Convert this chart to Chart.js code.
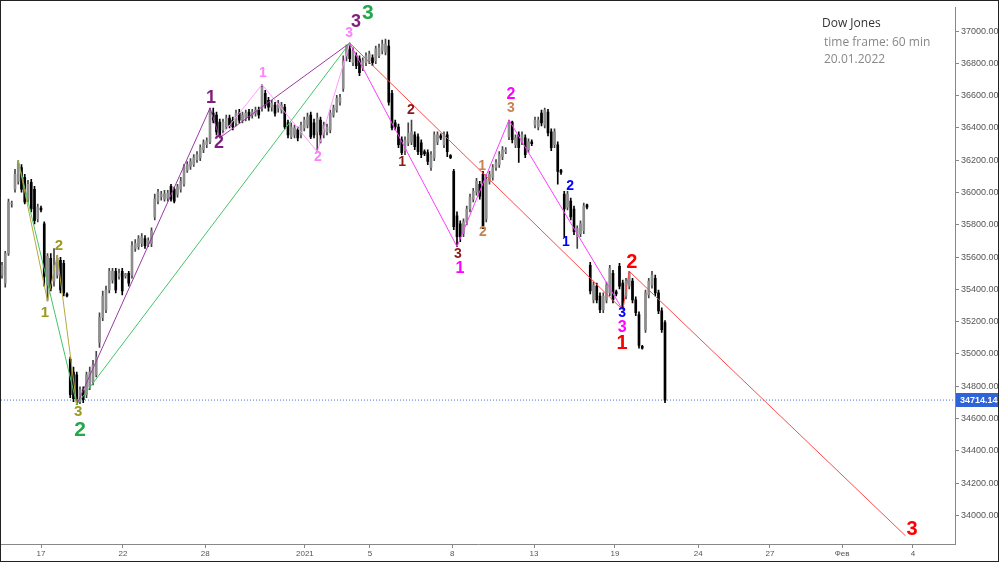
<!DOCTYPE html>
<html><head><meta charset="utf-8">
<script src="https://cdn.jsdelivr.net/npm/chart.js@4/dist/chart.umd.min.js"></script>
<style>
html,body{margin:0;padding:0;background:#fff;}
#wrap{position:relative;width:999px;height:562px;overflow:hidden;}
canvas{display:block;}
.info{position:absolute;left:822px;font-family:"Open Sans",sans-serif;font-size:12px;line-height:17px;white-space:nowrap;}
</style></head><body>
<div id="wrap"><canvas id="c" width="999" height="562"></canvas>
<div class="info" style="top:14px;color:#333">Dow Jones</div>
<div class="info" style="top:33px;left:824px;color:#888">time frame: 60 min</div>
<div class="info" style="top:50px;left:824px;color:#888">20.01.2022</div>
</div>
<script>
// ---- hourly candles (bar index = position in arrays) ----
const opens=[35488,35439,35622,35929,36020,36069,36155,36094,35959,36063,
36020,35837,35904,35806,35427,35592,35451,35488,35580,35561,
35371,34967,34888,34870,34704,34778,34747,34796,34827,34870,
35071,35225,35274,35396,35457,35512,35482,35512,35482,35500,
35488,35653,35665,35684,35714,35684,35684,35849,35947,35972,
35959,35965,36039,36020,35990,36020,36051,36137,36161,36173,
36204,36216,36265,36296,36314,36492,36480,36437,36388,36406,
36461,36449,36431,36492,36449,36461,36498,36480,36492,36510,
36523,36614,36571,36529,36541,36523,36510,36529,36431,36345,
36357,36388,36357,36400,36418,36480,36431,36376,36449,36357,
36376,36388,36480,36510,36559,36645,36847,36890,36804,36847,
36829,36774,36804,36816,36835,36816,36847,36877,36871,36908,
36614,36431,36406,36327,36259,36308,36314,36357,36345,36308,
36253,36247,36155,36216,36314,36351,36296,36357,36229,36131,
35855,35806,35745,35818,35898,35959,36002,36051,36112,35837,
36069,36094,36155,36173,36222,36253,36345,36437,36296,36357,
36314,36339,36265,36314,36418,36406,36492,36418,36498,36376,
36296,36296,36137,35990,35910,35947,35898,35727,35745,35763,
35923,35549,35335,35420,35359,35274,35335,35378,35500,35384,
35543,35439,35359,35420,35451,35335,35243,35047,35151,35365,
35427,35469,35378,35267,35194];
const highs=[35567,35635,35959,35947,36143,36198,36173,36112,36076,36082,
36039,35929,35916,35818,35622,35622,35653,35610,35598,35580,
35378,34980,34918,34888,34796,34796,34888,34918,34961,35016,
35255,35390,35420,35531,35531,35531,35525,35531,35500,35512,
35696,35708,35733,35745,35733,35720,35782,35990,36020,36008,
36014,36014,36051,36033,36051,36094,36173,36192,36210,36235,
36253,36296,36327,36339,36523,36523,36498,36455,36455,36480,
36480,36467,36510,36516,36498,36510,36516,36516,36529,36529,
36669,36633,36590,36571,36559,36571,36559,36547,36449,36431,
36418,36406,36437,36467,36492,36498,36455,36492,36467,36437,
36424,36510,36541,36602,36608,36847,36914,36926,36896,36865,
36847,36835,36865,36877,36853,36908,36920,36945,36951,36945,
36633,36449,36424,36345,36345,36431,36449,36376,36363,36327,
36265,36265,36253,36376,36376,36363,36376,36376,36235,36143,
35880,35825,35837,35916,35990,36026,36088,36069,36131,36112,
36131,36173,36204,36253,36284,36278,36449,36443,36357,36376,
36376,36357,36333,36327,36467,36467,36510,36523,36516,36394,
36394,36314,36143,36008,36008,35965,35916,35794,35825,35935,
35929,35567,35445,35439,35378,35378,35445,35549,35518,35396,
35561,35457,35469,35512,35469,35353,35261,35053,35396,35469,
35512,35488,35396,35286,35206];
const lows=[35469,35414,35610,35910,36002,36051,36002,35929,35941,35880,
35806,35818,35880,35420,35329,35390,35420,35469,35378,35359,
35353,34729,34704,34686,34692,34698,34729,34778,34808,34857,
35041,35206,35255,35378,35439,35378,35463,35365,35469,35420,
35469,35635,35647,35665,35653,35665,35665,35831,35929,35953,
35947,35947,35947,35935,35971,36002,36039,36124,36143,36161,
36186,36198,36247,36278,36302,36431,36357,36339,36369,36394,
36400,36388,36412,36431,36431,36443,36449,36461,36473,36461,
36504,36523,36504,36504,36473,36498,36492,36394,36339,36333,
36339,36320,36339,36382,36400,36333,36339,36253,36308,36339,
36357,36369,36467,36498,36541,36627,36816,36810,36786,36767,
36724,36755,36786,36798,36786,36798,36835,36859,36853,36541,
36388,36388,36278,36235,36235,36290,36296,36265,36235,36216,
36229,36173,36137,36198,36296,36327,36278,36222,36210,35770,
35665,35696,35727,35800,35880,35941,35984,35959,35776,35818,
36051,36076,36137,36155,36204,36241,36327,36308,36278,36186,
36296,36216,36247,36290,36400,36388,36412,36400,36351,36259,
36278,36051,36112,35727,35892,35831,35739,35653,35727,35745,
35898,35371,35316,35316,35255,35255,35316,35359,35316,35359,
35402,35273,35341,35402,35316,35237,35035,35029,35133,35347,
35408,35359,35249,35133,34698];
const closes=[35549,35622,35941,35935,36112,36173,36020,35941,36051,35898,
35825,35910,35892,35482,35604,35408,35549,35592,35396,35378,
35359,34747,34723,34723,34778,34716,34870,34888,34931,34980,
35225,35359,35396,35512,35512,35396,35500,35390,35494,35439,
35671,35684,35714,35727,35671,35702,35763,35959,36002,35990,
35990,35996,35959,35947,36033,36069,36161,36173,36192,36216,
36235,36278,36308,36320,36510,36449,36376,36357,36437,36461,
36418,36406,36492,36449,36480,36492,36467,36498,36510,36480,
36651,36541,36529,36553,36492,36553,36541,36406,36357,36406,
36400,36339,36418,36449,36467,36345,36357,36461,36357,36418,
36406,36492,36523,36584,36590,36816,36908,36829,36877,36786,
36743,36816,36847,36859,36804,36890,36896,36920,36920,36559,
36400,36406,36296,36247,36327,36369,36376,36284,36253,36235,
36241,36192,36235,36357,36357,36339,36357,36253,36216,35788,
35727,35727,35818,35898,35971,36008,36069,35978,35794,36082,
36112,36155,36186,36235,36265,36265,36431,36327,36339,36278,
36357,36235,36314,36302,36449,36449,36431,36510,36369,36278,
36376,36131,36124,35898,35990,35849,35757,35776,35806,35916,
35910,35390,35427,35335,35274,35359,35427,35531,35335,35371,
35420,35286,35451,35500,35335,35255,35053,35035,35378,35451,
35488,35378,35267,35151,34714.14];
const lastPrice=34714.14;

// ---- axes ----
const yTicks=[34000,34200,34400,34600,34800,35000,35200,35400,35600,35800,36000,36200,36400,36600,36800,37000];
const xTickPos=[12,37.2,62.5,93.2,113.2,138.5,163.7,188.6,214.2,236.3,258.5,280.3];
const xTickLabels=['17','22','28','2021','5','8','13','19','24','27','Фев','4'];
const XMIN=-0.3077, XMAX=293.23, YMIN=33822.4, YMAX=37146.9;

// ---- wave lines (bar index, price) ----
const oliveX=[5,14,17,23], oliveY=[36198,35329,35610,34686];
const greenX=[5,23,107], greenY=[36198,34686,36926];
const purpleX=[23,64,67,107], purpleY=[34686,36523,36339,36926];
const pinkX=[67,80,97,107], pinkY=[36339,36669,36253,36926];
const magentaX=[107,140,156,191], magentaY=[36926,35665,36449,35273];
const redX=[107,191,193,278], redY=[36926,35273,35512,33873];

// ---- wave labels ----
const oliveLblX=[13.2,17.5,23.4], oliveLblY=[35237,35654,34625], oliveLbl=['1','2','3'];
const greenLblX=[24,112.6], greenLblY=[34509,37092], greenLbl=['2','3'];
const purpleLblX=[64.3,66.8,108.9], purpleLblY=[36565,36290,37037], purpleLbl=['1','2','3'];
const pinkLblX=[80.3,97.2,106.8], pinkLblY=[36718,36198,36969], pinkLbl=['1','2','3'];
const darkredLblX=[123.1,125.8,140.3], darkredLblY=[36168,36492,35598], darkredLbl=['1','2','3'];
const magentaLblX=[140.9,156.6,190.8], magentaLblY=[35513,36590,35146], magentaLbl=['1','2','3'];
const tanLblX=[147.7,148,156.6], tanLblY=[36143,35739,36504], tanLbl=['1','2','3'];
const blueLblX=[173.5,174.8,190.8], blueLblY=[35672,36021,35237], blueLbl=['1','2','3'];
const redLblX=[190.8,193.8,280], redLblY=[35048,35550,33891], redLbl=['1','2','3'];

const labelGroups=[
 {xs:oliveLblX,ys:oliveLblY,t:oliveLbl,color:'#9c9a1c',size:15},
 {xs:greenLblX,ys:greenLblY,t:greenLbl,color:'#22a84a',size:21},
 {xs:purpleLblX,ys:purpleLblY,t:purpleLbl,color:'#7e1f7e',size:18},
 {xs:pinkLblX,ys:pinkLblY,t:pinkLbl,color:'#ff80ff',size:14},
 {xs:darkredLblX,ys:darkredLblY,t:darkredLbl,color:'#8b1a1a',size:14},
 {xs:magentaLblX,ys:magentaLblY,t:magentaLbl,color:'#ff00ff',size:16},
 {xs:tanLblX,ys:tanLblY,t:tanLbl,color:'#c58450',size:14},
 {xs:blueLblX,ys:blueLblY,t:blueLbl,color:'#0000ff',size:14},
 {xs:redLblX,ys:redLblY,t:redLbl,color:'#ff0000',size:20}
];

const idx=opens.map((_,i)=>i);
const isBull=i=>closes[i]>=opens[i];
const pts=(xs,ys)=>xs.map((x,i)=>({x:x,y:ys[i]}));
const lineDs=(xs,ys,color)=>({type:'line',data:pts(xs,ys),borderColor:color,borderWidth:1,pointRadius:0,tension:0,fill:false,order:0});

const annot={
 id:'annot',
 afterDatasetsDraw(chart){
  const {ctx,scales:{x,y}}=chart;
  ctx.save();
  ctx.textAlign='center';ctx.textBaseline='middle';
  labelGroups.forEach(g=>{
    ctx.font='bold '+g.size+'px "Liberation Sans", Arial, sans-serif';
    ctx.fillStyle=g.color;
    g.xs.forEach((xv,k)=>ctx.fillText(g.t[k],x.getPixelForValue(xv),y.getPixelForValue(g.ys[k])-3));
  });
  ctx.restore();
 },
 afterDraw(chart){
  const {ctx,chartArea,scales:{y}}=chart;
  const yy=Math.round(y.getPixelForValue(lastPrice));
  ctx.save();
  ctx.fillStyle='#2f63d9';
  ctx.fillRect(chartArea.right+1,yy-7,44,14);
  ctx.fillStyle='#fff';ctx.font='bold 9px "Liberation Sans", Arial, sans-serif';
  ctx.textAlign='left';ctx.textBaseline='middle';
  ctx.fillText(lastPrice.toFixed(2),chartArea.right+5,yy+0.5);
  ctx.strokeStyle='#222';ctx.lineWidth=1;
  ctx.strokeRect(0.5,0.5,998,561);
  ctx.restore();
 }
};

new Chart(document.getElementById('c'),{
 type:'bar',
 data:{datasets:[
  lineDs(oliveX,oliveY,'#b4aa3c'),
  lineDs(greenX,greenY,'#45c466'),
  lineDs(purpleX,purpleY,'#9a3aa2'),
  lineDs(pinkX,pinkY,'#ff9cff'),
  lineDs(magentaX,magentaY,'#ff3cff'),
  lineDs(redX,redY,'#ff4a4a'),
  {type:'line',data:[{x:XMIN,y:lastPrice},{x:XMAX,y:lastPrice}],borderColor:'#4a6fe0',borderWidth:1,borderDash:[1,2],pointRadius:0,order:3},
  {type:'bar',data:idx.map(i=>({x:i,y:[lows[i],highs[i]]})),backgroundColor:idx.map(i=>isBull(i)?'#444':'#000'),barThickness:1,grouped:false,order:2,minBarLength:1},
  {type:'bar',data:idx.map(i=>({x:i,y:[opens[i],closes[i]]})),backgroundColor:idx.map(i=>isBull(i)?'#8e8e8e':'#000'),barThickness:2,grouped:false,order:1,minBarLength:1}
 ]},
 options:{
  responsive:false,animation:false,devicePixelRatio:1,
  layout:{padding:{left:1,top:1,right:0,bottom:1}},
  plugins:{legend:{display:false},tooltip:{enabled:false}},
  scales:{
   x:{type:'linear',min:XMIN,max:XMAX,offset:false,
      afterBuildTicks:s=>{s.ticks=xTickPos.map(v=>({value:v}));},
      afterFit:s=>{s.height=17;},
      grid:{drawOnChartArea:false,offset:false,tickLength:4,color:'#888'},
      border:{display:true,color:'#888'},
      ticks:{autoSkip:false,maxRotation:0,padding:1,color:'#555',font:{family:'"Liberation Sans", Arial',size:8},callback:(v,i)=>xTickLabels[i]}},
   y:{type:'linear',position:'right',min:YMIN,max:YMAX,
      afterBuildTicks:s=>{s.ticks=yTicks.map(v=>({value:v}));},
      afterFit:s=>{s.width=44;},
      grid:{drawOnChartArea:false,tickLength:4,color:'#888'},
      border:{display:true,color:'#888'},
      ticks:{padding:2,color:'#555',font:{family:'"Liberation Sans", Arial',size:9},callback:v=>v.toFixed(2)}}
  }
 },
 plugins:[annot]
});
</script>
</body></html>
